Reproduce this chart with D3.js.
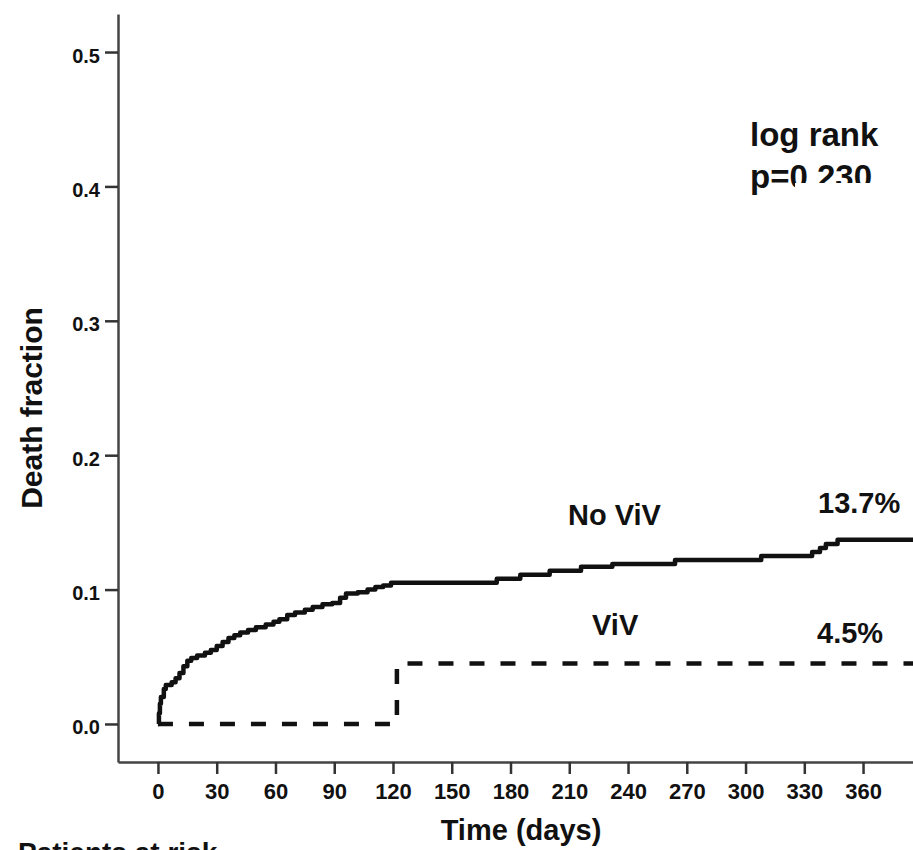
<!DOCTYPE html>
<html>
<head>
<meta charset="utf-8">
<script src="https://cdn.jsdelivr.net/npm/d3@7"></script>
<style>
  body { margin: 0; background: #fff; }
  text { font-family: "Liberation Sans", Arial, sans-serif; fill: #111; }
</style>
</head>
<body>
<script>
// cumulative death fraction, No ViV
const noVivDays = [0, 0.5, 1, 1.5, 3, 4, 7, 9, 11, 13, 15, 17, 20, 24, 27, 30, 33, 36, 39, 42, 46, 50, 55, 59, 62, 66, 70, 75, 79, 84, 89, 93, 96, 102, 107, 111, 115, 119, 173, 185, 200, 216, 232, 264, 308, 334, 338, 341, 347, 386];
const noVivFrac = [0, 0.008, 0.015, 0.02, 0.026, 0.029, 0.031, 0.034, 0.038, 0.043, 0.047, 0.049, 0.051, 0.053, 0.055, 0.058, 0.061, 0.064, 0.066, 0.068, 0.07, 0.072, 0.074, 0.076, 0.078, 0.081, 0.083, 0.085, 0.087, 0.089, 0.09, 0.094, 0.097, 0.098, 0.1, 0.102, 0.103, 0.105, 0.108, 0.111, 0.114, 0.117, 0.119, 0.122, 0.125, 0.128, 0.131, 0.134, 0.137, 0.137];

// ViV
const vivDays = [0, 122, 386];
const vivFrac = [0, 0.045, 0.045];

const xTicks = [0, 30, 60, 90, 120, 150, 180, 210, 240, 270, 300, 330, 360];
const yTicks = [0.0, 0.1, 0.2, 0.3, 0.4, 0.5];

const width = 913;
const height = 850;

const svg = d3.select("body")
  .append("svg")
  .attr("width", width)
  .attr("height", height);

// スケール
const x = d3.scaleLinear().domain([-20.4, 385.5]).range([118, 913]);
const y = d3.scaleLinear().domain([-0.0283, 0.5283]).range([762, 14]);

// 軸
const xAxis = d3.axisBottom(x)
  .tickValues(xTicks)
  .tickFormat(d3.format("d"))
  .tickSize(12)
  .tickSizeOuter(0)
  .tickPadding(9);

const yAxis = d3.axisLeft(y)
  .tickValues(yTicks)
  .tickFormat(d3.format(".1f"))
  .tickSize(13)
  .tickSizeOuter(0)
  .tickPadding(5);

const gx = svg.append("g")
  .attr("transform", `translate(0,${y.range()[0]})`)
  .call(xAxis);
gx.select(".domain").attr("stroke", "#444").attr("stroke-width", 2.5);
gx.selectAll(".tick line").attr("stroke", "#333").attr("stroke-width", 2.5);
gx.selectAll(".tick text")
  .attr("font-size", 22)
  .attr("font-weight", "bold")
  .attr("fill", "#222")
  .style("font-family", "'Liberation Sans', Arial, sans-serif");

const gy = svg.append("g")
  .attr("transform", `translate(${x.range()[0]},0)`)
  .call(yAxis);
gy.select(".domain").attr("stroke", "#444").attr("stroke-width", 2.5);
gy.selectAll(".tick line").attr("stroke", "#333").attr("stroke-width", 2.5);
gy.selectAll(".tick text")
  .attr("font-size", 20)
  .attr("font-weight", "bold")
  .attr("dy", "0.5em")
  .attr("fill", "#222")
  .style("font-family", "'Liberation Sans', Arial, sans-serif");

// 0.4 label is partly cut at the top in the original
svg.append("rect")
  .attr("x", 60).attr("y", 174)
  .attr("width", 45).attr("height", 8)
  .attr("fill", "#fff");

// 曲線
const line = d3.line()
  .x((d) => x(d[0]))
  .y((d) => y(d[1]))
  .curve(d3.curveStepAfter);

svg.append("path")
  .datum(d3.zip(vivDays, vivFrac))
  .attr("d", line)
  .attr("fill", "none")
  .attr("stroke", "#111")
  .attr("stroke-width", 4.5)
  .attr("stroke-dasharray", "15,16");

svg.append("path")
  .datum(d3.zip(noVivDays, noVivFrac))
  .attr("d", line)
  .attr("fill", "none")
  .attr("stroke", "#111")
  .attr("stroke-width", 4.5)
  .attr("stroke-linejoin", "round");

// 軸タイトル
svg.append("text")
  .attr("x", 521)
  .attr("y", 840)
  .attr("text-anchor", "middle")
  .attr("font-size", 29)
  .attr("font-weight", "bold")
  .text("Time (days)");

svg.append("text")
  .attr("transform", "translate(42,408) rotate(-90)")
  .attr("text-anchor", "middle")
  .attr("font-size", 30)
  .attr("font-weight", "bold")
  .text("Death fraction");

svg.append("text")
  .attr("x", 18)
  .attr("y", 862)
  .attr("font-size", 28)
  .attr("font-weight", "bold")
  .text("Patients at risk");

// 注釈
svg.append("text")
  .attr("x", 750).attr("y", 146)
  .attr("font-size", 33)
  .attr("font-weight", "bold")
  .text("log rank");

svg.append("text")
  .attr("x", 750).attr("y", 188)
  .attr("font-size", 33)
  .attr("font-weight", "bold")
  .text("p=0.230");

// p value digits are cut at the bottom in the original
svg.append("rect")
  .attr("x", 795).attr("y", 183)
  .attr("width", 100).attr("height", 14)
  .attr("fill", "#fff");

const labels = [
  { t: "No ViV", x: 568, y: 525 },
  { t: "13.7%", x: 818, y: 513 },
  { t: "ViV", x: 592, y: 635 },
  { t: "4.5%", x: 817, y: 643 },
];

svg.selectAll(".lab")
  .data(labels)
  .join("text")
  .attr("class", "lab")
  .attr("x", (d) => d.x)
  .attr("y", (d) => d.y)
  .attr("font-size", 29)
  .attr("font-weight", "bold")
  .text((d) => d.t);
</script>
</body>
</html>
